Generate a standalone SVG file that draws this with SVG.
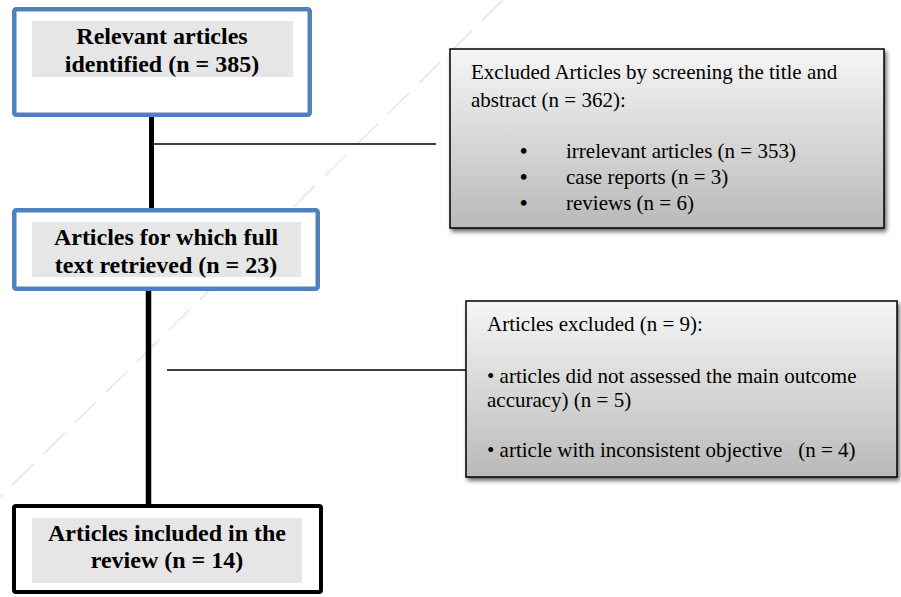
<svg xmlns="http://www.w3.org/2000/svg" width="901" height="597" viewBox="0 0 901 597">
<style>
  .bold { font-family: "Liberation Serif", "Times New Roman", serif; font-weight: bold; font-size: 24px; fill: #000; text-anchor: middle; }
  .reg { font-family: "Liberation Serif", "Times New Roman", serif; font-size: 21px; fill: #000; }
  .bul { font-family: "Liberation Serif", "Times New Roman", serif; font-size: 21px; font-weight: bold; fill: #000; }
  .blue { fill: #fff; stroke: #4f81bd; stroke-width: 4.5; }
  .black { fill: #fff; stroke: #000; stroke-width: 4; }
  .band { fill: #e6e6e6; }
  .excl { fill: url(#grad); stroke: #000; stroke-width: 1.5; filter: url(#shadow); }
  .thick { stroke: #000; stroke-width: 5; fill: none; }
  .thin { stroke: #000; stroke-width: 1.5; fill: none; }
</style>
<defs>
  <linearGradient id="grad" x1="0" y1="0" x2="0" y2="1">
    <stop offset="0" stop-color="#f6f6f6"/>
    <stop offset="1" stop-color="#b9b9b9"/>
  </linearGradient>
  <filter id="shadow" x="-5%" y="-5%" width="115%" height="125%">
    <feGaussianBlur in="SourceAlpha" stdDeviation="2"/>
    <feOffset dx="2" dy="3" result="b"/>
    <feComponentTransfer><feFuncA type="linear" slope="0.6"/></feComponentTransfer>
    <feMerge><feMergeNode/><feMergeNode in="SourceGraphic"/></feMerge>
  </filter>
</defs>
<rect width="901" height="597" fill="#fff"/>
<line x1="503" y1="0" x2="0" y2="497" stroke="#e2e2e2" stroke-width="1.3" stroke-dasharray="30 14"/>
<g id="connectors">
  <line class="thick" x1="151.5" y1="116" x2="151.5" y2="209"/>
  <line class="thin" x1="153" y1="144" x2="436" y2="144"/>
  <line class="thick" x1="148.5" y1="290" x2="148.5" y2="505" style="stroke-width:5.5"/>
  <line class="thin" x1="167" y1="370" x2="466" y2="370"/>
</g>
<g id="node-identified">
  <rect class="blue" x="14.25" y="9.25" width="295.5" height="105.5" rx="2"/>
  <rect class="band" x="32" y="21" width="261" height="56"/>
  <text class="bold" x="162" y="44">Relevant articles</text>
  <text class="bold" x="162" y="72">identified (n = 385)</text>
</g>
<g id="node-fulltext">
  <rect class="blue" x="14.25" y="210.25" width="303.5" height="78.5" rx="2"/>
  <rect class="band" x="32" y="222" width="269" height="55"/>
  <text class="bold" x="166" y="245">Articles for which full</text>
  <text class="bold" x="166" y="273">text retrieved (n = 23)</text>
</g>
<g id="node-included">
  <rect class="black" x="14" y="506" width="307" height="86" rx="2"/>
  <rect class="band" x="32" y="518" width="270" height="65"/>
  <text class="bold" x="167" y="541">Articles included in the</text>
  <text class="bold" x="167" y="568">review (n = 14)</text>
</g>
<g id="node-excluded-screening">
  <rect class="excl" x="450" y="49" width="434" height="179"/>
  <text class="reg" x="471" y="79">Excluded Articles by screening the title and</text>
  <text class="reg" x="471" y="107">abstract (n = 362):</text>
  <text class="bul" x="520" y="158">•</text>
  <text class="reg" x="566" y="158">irrelevant articles (n = 353)</text>
  <text class="bul" x="520" y="184">•</text>
  <text class="reg" x="566" y="184">case reports (n = 3)</text>
  <text class="bul" x="520" y="210">•</text>
  <text class="reg" x="566" y="210">reviews (n = 6)</text>
</g>
<g id="node-excluded-fulltext">
  <rect class="excl" x="466" y="301" width="431" height="176"/>
  <text class="reg" x="487" y="331">Articles excluded (n = 9):</text>
  <text class="reg" x="487" y="383">• articles did not assessed the main outcome</text>
  <text class="reg" x="487" y="407">accuracy) (n = 5)</text>
  <text class="reg" x="487" y="457" xml:space="preserve">• article with inconsistent objective   (n = 4)</text>
</g>
</svg>
